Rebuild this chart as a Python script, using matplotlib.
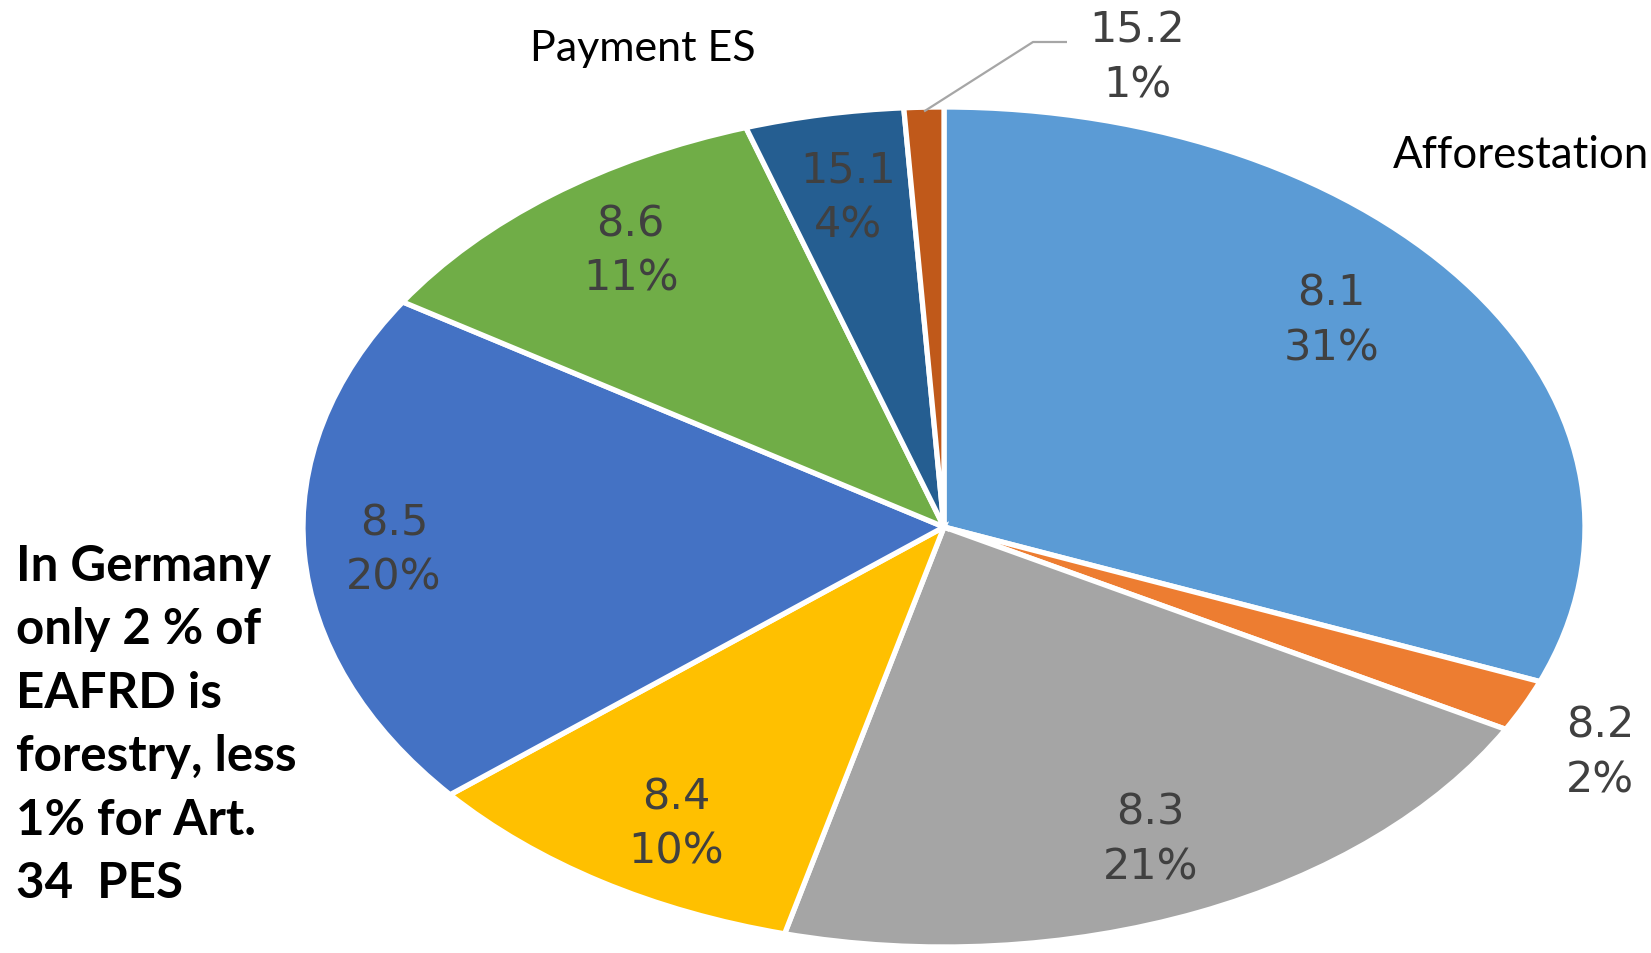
import matplotlib
matplotlib.use("Agg")
import matplotlib.pyplot as plt
import numpy as np

codes = ["8.1", "8.2", "8.3", "8.4", "8.5", "8.6", "15.1", "15.2"]
shares = [31, 2, 21, 10, 20, 11, 4, 1]
colors = ["#5B9BD5", "#ED7D31", "#A5A5A5", "#FFC000", "#4472C4",
          "#70AD47", "#255E91", "#C0591A"]
note_text = "In Germany\nonly 2 % of\nEAFRD is\nforestry, less\n1% for Art.\n34  PES"

W, H = 1651, 954
fig = plt.figure(figsize=(W / 100, H / 100), dpi=100)
ax = fig.add_axes([0, 0, 1, 1])

cx, cy = 944, 528      # pie centre (pixels from top-left)
rx, ry = 641, 420      # ellipse radii in pixels

wedges, _ = ax.pie(shares, colors=colors, startangle=90, counterclock=False,
                   wedgeprops=dict(edgecolor="white", linewidth=3.8))
ax.set_aspect("auto")
ax.set_xlim(-cx / rx, (W - cx) / rx)
ax.set_ylim(-(H - cy) / ry, cy / ry)
ax.axis("off")


def px(x):
    return (x - cx) / rx


def py(y):
    return (cy - y) / ry


label_color = "#404040"
lab_kw = dict(ha="center", va="center", fontsize=31, color=label_color,
              linespacing=1.38, family="DejaVu Sans")
inside_r = [0.78, None, 0.81, 0.82, 0.86, 0.82, 0.80, None]
ang_off = [5.0, 0, 0, 1.8, 0, -1.2, 0, 0]
for w, code, s, r, off in zip(wedges, codes, shares, inside_r, ang_off):
    mid = np.deg2rad((w.theta1 + w.theta2) / 2 + off)
    if r is not None:
        ax.text(r * np.cos(mid), r * np.sin(mid), f"{code}\n{s}%", **lab_kw)

# 8.2 label outside
ax.text(px(1600), py(753), f"{codes[1]}\n{shares[1]}%", **lab_kw)

# 15.2 label with leader line
w = wedges[7]
mid = np.deg2rad((w.theta1 + w.theta2) / 2)
x0, y0 = 0.99 * np.cos(mid), 0.99 * np.sin(mid)
ax.plot([x0, px(1033), px(1067)], [y0, py(43), py(43)], color="#A6A6A6",
        lw=1.6, solid_capstyle="butt")
ax.text(px(1137), py(58), f"{codes[7]}\n{shares[7]}%", **lab_kw)

# category annotations
ax.text(px(530), py(49), "Payment ES", ha="left", va="center",
        fontsize=31, color="black", family="Lato")
ax.text(px(1393), py(156), "Afforestation", ha="left", va="center",
        fontsize=31.5, color="black", family="Lato")

# side note
fig.text(16 / W, 1 - 544 / H, note_text, ha="left", va="top",
         fontsize=35.5, fontweight="bold", color="black", family="Lato",
         linespacing=1.50)

fig.savefig("out.png", dpi=100, facecolor="white")
